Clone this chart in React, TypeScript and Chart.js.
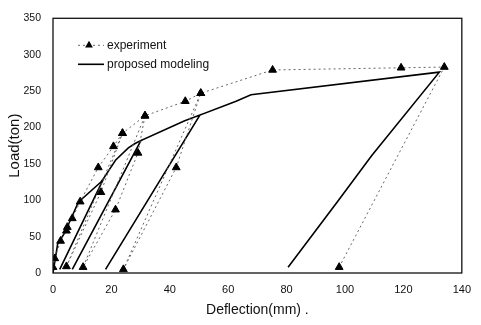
import React, { useEffect, useRef } from "react";
import { Chart, registerables } from "chart.js";

Chart.register(...registerables);

// ---- data ----
const SERIES_LABELS = ["experiment", "proposed modeling"];
const X_TITLE = "Deflection(mm) .";
const Y_TITLE = "Load(ton)";

const X_MIN = 0;
const X_MAX = 140;
const X_STEP = 20;
const Y_MIN = 0;
const Y_MAX = 350;
const Y_STEP = 50;

// experiment: envelope with unloading / reloading loops (in test order)
const experimentDeflection = [
  0, 0.6, 2.6, 4.6, 4.9, 6.6, 9.3, 15.5, 20.7, 23.8, 16.4, 4.6, 23.8, 31.5, 29.1,
  21.4, 10.3, 31.5, 45.3, 50.6, 42.2, 24.1, 50.6, 75.2, 119.2, 134, 98,
];
const experimentLoad = [
  8, 20, 44, 58, 63, 75, 98, 145, 174, 192, 111, 9, 192, 216, 165, 87, 8, 216,
  236, 247, 145, 5, 247, 279, 282, 283, 8,
];

// proposed modeling: envelope with linear unloading / reloading branches
const modelDeflection = [
  0, 1.6, 4, 8.3, 10, 16.4, 17.5, 2.3, 17.5, 21.4, 25.8, 28.1, 30.1, 6.6, 30.1,
  44.9, 50.3, 18, 50.3, 62.7, 67.8, 132.3, 109.1, 97.4, 80.5,
];
const modelLoad = [
  0, 40, 55, 94, 102, 125, 131, 5, 131, 155, 172, 178, 182, 5, 182, 209, 217, 5,
  217, 236, 245, 276, 161, 98, 8,
];

const FONT = "'Liberation Sans', Arial, Helvetica, sans-serif";

function toPoints(xs: number[], ys: number[]) {
  return xs.map((x, i) => ({ x, y: ys[i] }));
}

export default function App() {
  const ref = useRef<HTMLCanvasElement>(null);

  useEffect(() => {
    const canvas = ref.current;
    if (!canvas) return;

    const framePlugin = {
      id: "frame",
      afterDatasetsDraw(chart: any) {
        const { ctx, chartArea } = chart;
        const { left, top, right, bottom } = chartArea;
        ctx.save();
        ctx.strokeStyle = "#111";
        ctx.lineWidth = 1.3;
        ctx.strokeRect(left, top, right - left, bottom - top);
        ctx.restore();
      },
    };

    const insideLegend = {
      id: "insideLegend",
      afterDraw(chart: any) {
        const { ctx, chartArea } = chart;
        const ds = chart.data.datasets;
        const x0 = chartArea.left + 25;
        const x1 = chartArea.left + 51;
        const tx = chartArea.left + 54;
        const rows = [chartArea.top + 27, chartArea.top + 46];
        ctx.save();
        ds.forEach((d: any, i: number) => {
          const y = rows[i];
          ctx.beginPath();
          ctx.strokeStyle = d.borderColor;
          ctx.lineWidth = d.borderWidth;
          ctx.setLineDash(d.borderDash || []);
          ctx.moveTo(x0, y);
          ctx.lineTo(x1, y);
          ctx.stroke();
          ctx.setLineDash([]);
          if (d.pointRadius > 0) {
            const cx = chartArea.left + 36;
            const r = d.pointRadius;
            let rad = 0;
            ctx.beginPath();
            ctx.moveTo(cx + Math.sin(rad) * r, y - Math.cos(rad) * r);
            rad += (2 * Math.PI) / 3;
            ctx.lineTo(cx + Math.sin(rad) * r, y - Math.cos(rad) * r);
            rad += (2 * Math.PI) / 3;
            ctx.lineTo(cx + Math.sin(rad) * r, y - Math.cos(rad) * r);
            ctx.closePath();
            ctx.fillStyle = d.pointBackgroundColor;
            ctx.fill();
          }
          ctx.fillStyle = "#111";
          ctx.font = `12px ${FONT}`;
          ctx.textBaseline = "middle";
          ctx.textAlign = "left";
          ctx.fillText(d.label, tx, y);
        });
        ctx.restore();
      },
    };

    const chart = new Chart(canvas, {
      type: "line",
      data: {
        datasets: [
          {
            label: SERIES_LABELS[0],
            data: toPoints(experimentDeflection, experimentLoad),
            borderColor: "#666",
            borderWidth: 1,
            borderDash: [2, 3],
            pointStyle: "triangle",
            pointRadius: 4.5,
            pointBackgroundColor: "#000",
            pointBorderColor: "#000",
            pointBorderWidth: 1,
            tension: 0,
            fill: false,
          },
          {
            label: SERIES_LABELS[1],
            data: toPoints(modelDeflection, modelLoad),
            borderColor: "#000",
            borderWidth: 1.6,
            pointRadius: 0,
            tension: 0,
            fill: false,
          },
        ],
      },
      options: {
        responsive: false,
        animation: false,
        devicePixelRatio: 1,
        layout: { padding: { top: 12, right: 11, bottom: 0, left: 0 } },
        plugins: {
          legend: { display: false },
          tooltip: { enabled: false },
        },
        scales: {
          x: {
            type: "linear",
            min: X_MIN,
            max: X_MAX,
            ticks: {
              stepSize: X_STEP,
              color: "#111",
              padding: 10,
              font: { family: FONT, size: 11 },
              maxRotation: 0,
            },
            grid: { display: false, drawTicks: false },
            border: { display: false },
            title: {
              display: true,
              text: X_TITLE,
              color: "#111",
              font: { family: FONT, size: 14 },
              padding: { top: 0, bottom: 6.6 },
            },
            afterFit(scale: any) {
              scale.height = 52;
            },
          },
          y: {
            type: "linear",
            min: Y_MIN,
            max: Y_MAX,
            ticks: {
              stepSize: Y_STEP,
              color: "#111",
              padding: 12,
              font: { family: FONT, size: 10.5 },
            },
            grid: { display: false, drawTicks: false },
            border: { display: false },
            title: {
              display: true,
              text: Y_TITLE,
              color: "#111",
              font: { family: FONT, size: 15 },
              padding: { top: 6, bottom: 0 },
            },
            afterFit(scale: any) {
              scale.width = 53;
            },
          },
        },
      },
      plugins: [framePlugin, insideLegend],
    } as any);

    return () => chart.destroy();
  }, []);

  return (
    <div
      style={{
        position: "absolute",
        left: 0,
        top: 0,
        width: 481,
        height: 325,
        background: "#fff",
      }}
    >
      <canvas ref={ref} width={481} height={325} style={{ display: "block" }} />
    </div>
  );
}
